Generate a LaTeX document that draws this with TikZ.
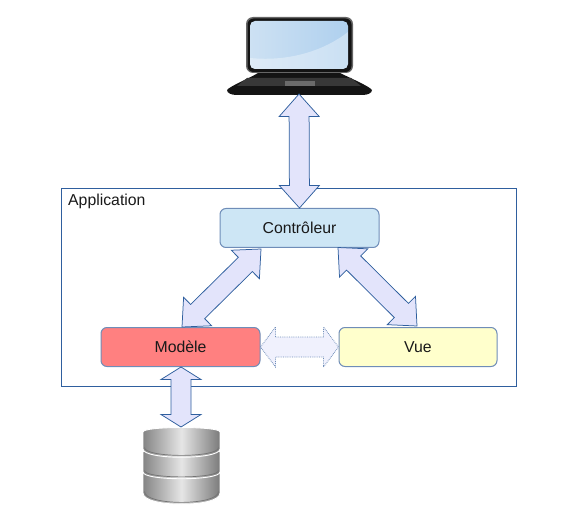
\documentclass[tikz,border=0pt]{standalone}
\usepackage{fontspec}
\setmainfont{Liberation Sans}
\usetikzlibrary{calc}
\definecolor{edgeblue}{HTML}{2F5F9E}
\definecolor{boxedge}{HTML}{6F8DB8}
\definecolor{arrowfill}{HTML}{E3E4FB}
\definecolor{arrowlight}{HTML}{F0F1FD}
\tikzset{
  box/.style={draw=boxedge,line width=1pt,rounded corners=6pt,minimum width=158pt,minimum height=39pt,inner sep=0pt,text height=13pt,text depth=2pt,font=\fontsize{15.8}{18}\selectfont,text=black!90},
  blockarrow/.style={draw=edgeblue,fill=arrowfill,line width=0.75pt,line join=miter},
  softarrow/.style={draw=boxedge,fill=arrowlight,line width=0.8pt,densely dotted},
  disc/.style={left color=black!48,right color=black!52,middle color=black!10,draw=white,line width=0.9pt}
}
% #1 style, #2 from, #3 to, #4 head length
\newcommand{\dblarrow}[4]{%
  \path[#1] ($(#2)$)
    -- ($($(#2)!#4!(#3)$)!20pt!90:(#3)$)
    -- ($($(#2)!#4!(#3)$)!10pt!90:(#3)$)
    -- ($($(#3)!#4!(#2)$)!10pt!-90:(#2)$)
    -- ($($(#3)!#4!(#2)$)!20pt!-90:(#2)$)
    -- ($(#3)$)
    -- ($($(#3)!#4!(#2)$)!20pt!90:(#2)$)
    -- ($($(#3)!#4!(#2)$)!10pt!90:(#2)$)
    -- ($($(#2)!#4!(#3)$)!10pt!-90:(#3)$)
    -- ($($(#2)!#4!(#3)$)!20pt!-90:(#3)$)
    -- cycle;}
% #1 top of the side, #2 bottom of the side, #3 control offset of the lower curve
\newcommand{\dbdisc}[3]{%
  \path[disc] (143,#1+3) .. controls (143,#1-3) and (220,#1-3) .. (220,#1+3)
    -- (220,#2) .. controls (220,#2+#3) and (143,#2+#3) .. (143,#2) -- cycle;
  \draw[black!55,line width=0.7pt] (144.5,#2-1.5) .. controls (144.5,#2+#3-2) and (218.5,#2+#3-2) .. (218.5,#2-1.5);}
\begin{document}
\begin{tikzpicture}[x=1pt,y=-1pt]
\useasboundingbox (0,0) rectangle (581,513);
% application frame
\node[draw=edgeblue,line width=0.8pt,minimum width=455pt,minimum height=198pt,inner sep=0pt,anchor=north west] (app) at (61,188) {};
\node[anchor=west,inner sep=0pt,font=\fontsize{15.8}{18}\selectfont,text=black!90] (applabel) at (68,201.2) {Application};
% boxes
\node[box,fill={rgb,255:red,205;green,230;blue,245},minimum width=159pt] (ctrl) at (299.5,228) {Contrôleur};
\node[box,fill={rgb,255:red,255;green,128;blue,128},minimum width=159pt] (model) at (180.5,347) {Modèle};
\node[box,fill={rgb,255:red,255;green,255;blue,204}] (view) at (418,347) {Vue};
% laptop
\coordinate (lapc) at (299,94);
\fill[black!92] (227,90) .. controls (230,86) and (250,78) .. (258,73) -- (340,73) .. controls (350,78) and (369,86) .. (372,90) .. controls (372,93) and (368,95) .. (362,95) -- (237,95) .. controls (231,95) and (227,93) .. (227,90) -- cycle;
\fill[black!78] (247,78) -- (351,78) -- (361,86) -- (237,86) -- cycle;
\fill[black!58] (285,81) rectangle (315,86);
\fill[black!60,rounded corners=7pt] (246,17) rectangle (353,73);
\fill[black!92,rounded corners=6pt] (247.5,18.5) rectangle (351.5,72);
\shade[left color={rgb,255:red,205;green,225;blue,243},right color={rgb,255:red,175;green,208;blue,238},rounded corners=5pt] (250,21) rectangle (348,69);
\begin{scope}
\clip[rounded corners=5pt] (250,21) rectangle (348,69);
\fill[white,opacity=0.35] (250,69) -- (250,58) .. controls (290,62) and (325,50) .. (348,32) -- (348,69) -- cycle;
\end{scope}
% database
\coordinate (dbt) at (181,427);
\dbdisc{470}{493}{15}
\dbdisc{449}{472}{9}
\dbdisc{429}{449}{11}
% connectors
\dblarrow{blockarrow}{lapc}{ctrl.north}{22.5pt}
\coordinate (ca) at (261,249);
\coordinate (ma) at (182,327);
\dblarrow{blockarrow}{ca}{ma}{22pt}
\coordinate (cb) at (338,247.5);
\coordinate (vb) at (417,326);
\dblarrow{blockarrow}{cb}{vb}{22pt}
\dblarrow{softarrow}{model.east}{view.west}{15pt}
\coordinate (mb) at (181,367);
\dblarrow{blockarrow}{mb}{dbt}{12.5pt}
\end{tikzpicture}
\end{document}
